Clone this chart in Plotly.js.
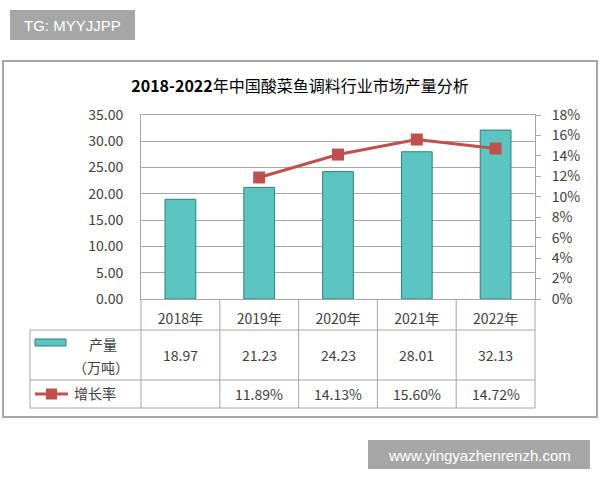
<!DOCTYPE html>
<html><head><meta charset="utf-8">
<script src="https://cdn.plot.ly/plotly-3.0.1.min.js"></script>
<style>body{margin:0;background:#fff}#chart{width:600px;height:480px}</style>
</head><body><div id="chart"></div>
<script>
const categories = ['2018年','2019年','2020年','2021年','2022年'];
const output = [18.97, 21.23, 24.23, 28.01, 32.13];
const growth = [null, 11.89, 14.13, 15.60, 14.72];
const outputLabels = ['18.97','21.23','24.23','28.01','32.13'];
const growthLabels = ['', '11.89%', '14.13%', '15.60%', '14.72%'];
const titleYears = '2018-2022';
const titleRest = '年中国酸菜鱼调料行业市场产量分析';

const L = 141, R = 535, T = 115, B = 299;
const W = R - L, H = B - T;
const px = x => (x - L) / W;
const py = y => (B - y) / H;
const FONT = '"Noto Sans CJK SC", "Noto Sans", sans-serif';
const GRID = '#a6a6a6';
const TXT = '#404040';

const traces = [
  {type:'bar', x:categories, y:output, width:0.39, name:'产量（万吨）',
   marker:{color:'#5cc5c2', line:{color:'#2f7f7c', width:1}}, showlegend:false, hoverinfo:'skip'},
  {type:'scatter', mode:'lines+markers', x:categories, y:growth, yaxis:'y2', name:'增长率',
   line:{color:'#c0504d', width:3}, marker:{symbol:'square', size:12, color:'#c0504d'},
   showlegend:false, hoverinfo:'skip', connectgaps:false}
];

const shapes = [];
const annotations = [];
shapes.push({type:'rect', xref:'paper', yref:'paper', x0:px(3), x1:px(597), y0:py(417), y1:py(61),
  line:{color:'#a6a6a6', width:2}, layer:'below'});
[330, 380, 408].forEach(y => shapes.push({type:'line', xref:'paper', yref:'paper',
  x0:px(30), x1:1, y0:py(y), y1:py(y), line:{color:GRID, width:1}}));
shapes.push({type:'line', xref:'paper', yref:'paper', x0:px(30), x1:px(30), y0:py(330), y1:py(408), line:{color:GRID, width:1}});
[0, 1].forEach(x => shapes.push({type:'line', xref:'paper', yref:'paper', x0:x, x1:x, y0:0, y1:py(408), line:{color:GRID, width:1}}));
for (let i = 1; i < categories.length; i++) {
  shapes.push({type:'line', xref:'x', yref:'paper', x0:i-0.5, x1:i-0.5, y0:0, y1:py(408), line:{color:GRID, width:1}});
}
shapes.push({type:'rect', xref:'paper', yref:'paper', x0:px(35), x1:px(66), y0:py(346), y1:py(339),
  fillcolor:'#5cc5c2', line:{color:'#2f7f7c', width:1}});
shapes.push({type:'line', xref:'paper', yref:'paper', x0:px(35), x1:px(68), y0:py(394), y1:py(394),
  line:{color:'#c0504d', width:3}});
shapes.push({type:'rect', xref:'paper', yref:'paper', x0:px(46), x1:px(57), y0:py(399.5), y1:py(388.5),
  fillcolor:'#c0504d', line:{color:'#c0504d', width:0}});
shapes.push({type:'rect', xref:'paper', yref:'paper', x0:px(10), x1:px(135), y0:py(40), y1:py(10),
  fillcolor:'#a6a6a6', line:{width:0}});
shapes.push({type:'rect', xref:'paper', yref:'paper', x0:px(368), x1:px(590), y0:py(469), y1:py(440),
  fillcolor:'#a6a6a6', line:{width:0}});

const ann = (x, y, text, opts) => Object.assign({xref:'paper', yref:'paper', x:x, y:y, text:text,
  showarrow:false, xanchor:'center', yanchor:'middle', font:{family:FONT, size:14, color:TXT}}, opts || {});

annotations.push(ann(px(103), py(344), '产量'));
annotations.push(ann(px(101), py(367), '（万吨）'));
annotations.push(ann(px(95), py(393), '增长率'));
categories.forEach((c, i) => {
  annotations.push(ann(i, py(355), outputLabels[i], {xref:'x'}));
  annotations.push(ann(i, py(394), growthLabels[i], {xref:'x'}));
});
annotations.push(ann(px(72), py(25), 'TG: MYYJJPP', {font:{family:'"Liberation Sans", Arial, sans-serif', size:15, color:'#ffffff'}}));
annotations.push(ann(px(479), py(455), 'www.yingyazhenrenzh.com', {font:{family:'"Liberation Sans", Arial, sans-serif', size:15, color:'#ffffff'}}));

const layout = {
  width:600, height:480,
  margin:{l:L, r:600-R, t:T, b:480-B, pad:0},
  paper_bgcolor:'#ffffff', plot_bgcolor:'#ffffff',
  title:{text:'<b>' + titleYears + '</b>' + titleRest, x:0.5, xanchor:'center', y:1-86/480, yanchor:'middle',
    font:{family:FONT, size:16, color:'#000000'}},
  showlegend:false,
  hovermode:false,
  xaxis:{type:'category', range:[-0.5, 4.5], showgrid:false, zeroline:false,
    showline:true, mirror:true, linecolor:GRID, linewidth:1, ticks:'',
    tickfont:{family:FONT, size:14, color:TXT}, ticklabelstandoff:7},
  yaxis:{range:[0, 35], dtick:5, tickformat:'.2f', showgrid:true, gridcolor:GRID, gridwidth:1,
    zeroline:false, showline:true, mirror:true, linecolor:GRID, linewidth:1, ticks:'',
    tickfont:{family:FONT, size:14, color:TXT}, ticklabelstandoff:14},
  yaxis2:{range:[0, 18], dtick:2, ticksuffix:'%', overlaying:'y', side:'right', showgrid:false,
    zeroline:false, showline:true, linecolor:GRID, linewidth:1, ticks:'outside', ticklen:5, tickcolor:GRID,
    tickfont:{family:FONT, size:14, color:TXT}, ticklabelstandoff:8},
  shapes:shapes, annotations:annotations
};

Plotly.newPlot('chart', traces, layout, {displayModeBar:false, staticPlot:true});
</script>
</body></html>
